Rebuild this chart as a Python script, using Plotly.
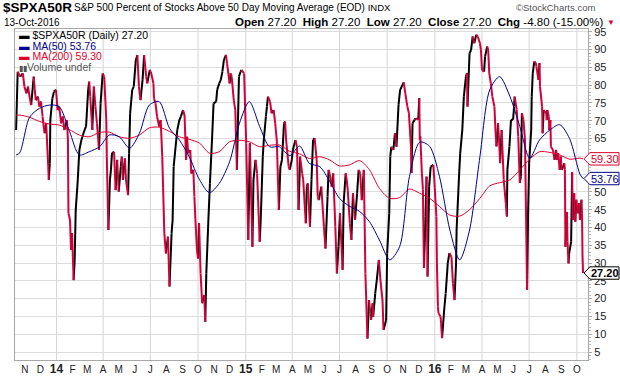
import plotly.graph_objects as go

# ---------------- data ----------------
close_dates = [
 "2013-10-15","2013-10-18","2013-10-23","2013-10-28","2013-10-31","2013-11-04","2013-11-07","2013-11-11",
 "2013-11-13","2013-11-18","2013-11-20","2013-11-22","2013-11-26","2013-11-29","2013-12-02","2013-12-05",
 "2013-12-09","2013-12-12","2013-12-16","2013-12-17","2013-12-19","2013-12-20","2013-12-24","2013-12-27",
 "2013-12-31","2014-01-03","2014-01-06","2014-01-10","2014-01-13","2014-01-16","2014-01-21","2014-01-23",
 "2014-01-24","2014-01-27","2014-01-29","2014-01-31","2014-02-03","2014-02-05","2014-02-07","2014-02-11",
 "2014-02-14","2014-02-18","2014-02-20","2014-02-24","2014-02-27","2014-03-03","2014-03-05","2014-03-07",
 "2014-03-11","2014-03-14","2014-03-17","2014-03-20","2014-03-24","2014-03-27","2014-03-31","2014-04-03",
 "2014-04-07","2014-04-08","2014-04-11","2014-04-14","2014-04-16","2014-04-18","2014-04-22","2014-04-25",
 "2014-04-28","2014-05-01","2014-05-05","2014-05-07","2014-05-09","2014-05-13","2014-05-15","2014-05-19",
 "2014-05-21","2014-05-23","2014-05-27","2014-05-30","2014-06-03","2014-06-06","2014-06-09","2014-06-12",
 "2014-06-16","2014-06-19","2014-06-23","2014-06-25","2014-06-30","2014-07-02","2014-07-07","2014-07-08",
 "2014-07-11","2014-07-14","2014-07-18","2014-07-21","2014-07-24","2014-07-28","2014-07-31","2014-08-04",
 "2014-08-07","2014-08-11","2014-08-13","2014-08-15","2014-08-20","2014-08-22","2014-08-26","2014-08-29",
 "2014-09-02","2014-09-05","2014-09-08","2014-09-10","2014-09-12","2014-09-16","2014-09-18","2014-09-22",
 "2014-09-24","2014-09-26","2014-09-29","2014-10-01","2014-10-03","2014-10-06","2014-10-09","2014-10-13",
 "2014-10-15","2014-10-17","2014-10-21","2014-10-24","2014-10-28","2014-10-31","2014-11-05","2014-11-07",
 "2014-11-11","2014-11-14","2014-11-17","2014-11-20","2014-11-24","2014-11-26","2014-12-01","2014-12-03",
 "2014-12-05","2014-12-09","2014-12-12","2014-12-15","2014-12-19","2014-12-22","2014-12-24","2014-12-29",
 "2015-01-02","2015-01-06","2015-01-09","2015-01-14","2015-01-16","2015-01-20","2015-01-23","2015-01-28",
 "2015-01-30","2015-02-03","2015-02-05","2015-02-09","2015-02-11","2015-02-13","2015-02-17","2015-02-20",
 "2015-02-24","2015-02-27","2015-03-02","2015-03-06","2015-03-09","2015-03-12","2015-03-16","2015-03-18",
 "2015-03-20","2015-03-25","2015-03-27","2015-03-31","2015-04-02","2015-04-07","2015-04-10","2015-04-13",
 "2015-04-16","2015-04-20","2015-04-22","2015-04-27","2015-04-29","2015-05-01","2015-05-05","2015-05-08",
 "2015-05-11","2015-05-14","2015-05-18","2015-05-20","2015-05-22","2015-05-27","2015-06-01","2015-06-04",
 "2015-06-08","2015-06-10","2015-06-12","2015-06-16","2015-06-19","2015-06-23","2015-06-26","2015-06-29",
 "2015-07-02","2015-07-07","2015-07-09","2015-07-13","2015-07-15","2015-07-17","2015-07-21","2015-07-24",
 "2015-07-27","2015-07-31","2015-08-04","2015-08-07","2015-08-10","2015-08-13","2015-08-17","2015-08-20",
 "2015-08-24","2015-08-27","2015-08-31","2015-09-03","2015-09-04","2015-09-08","2015-09-11","2015-09-15",
 "2015-09-18","2015-09-22","2015-09-24","2015-09-29","2015-10-01","2015-10-05","2015-10-07","2015-10-09",
 "2015-10-13","2015-10-16","2015-10-19","2015-10-23","2015-10-26","2015-11-02","2015-11-05","2015-11-09",
 "2015-11-12","2015-11-16","2015-11-17","2015-11-19","2015-11-23","2015-11-25","2015-11-30","2015-12-02",
 "2015-12-03","2015-12-04","2015-12-07","2015-12-09","2015-12-11","2015-12-14","2015-12-16","2015-12-18",
 "2015-12-21","2015-12-24","2015-12-29","2015-12-31","2016-01-04","2016-01-05","2016-01-07","2016-01-08",
 "2016-01-12","2016-01-13","2016-01-15","2016-01-19","2016-01-22","2016-01-26","2016-01-29","2016-02-02",
 "2016-02-05","2016-02-08","2016-02-11","2016-02-12","2016-02-17","2016-02-19","2016-02-23","2016-02-26",
 "2016-03-01","2016-03-03","2016-03-04","2016-03-08","2016-03-11","2016-03-14","2016-03-17","2016-03-21",
 "2016-03-24","2016-03-28","2016-03-30","2016-04-01","2016-04-05","2016-04-07","2016-04-11","2016-04-13",
 "2016-04-15","2016-04-18","2016-04-21","2016-04-25","2016-04-27","2016-04-29","2016-05-02","2016-05-04",
 "2016-05-06","2016-05-09","2016-05-13","2016-05-17","2016-05-19","2016-05-20","2016-05-24","2016-05-27",
 "2016-05-31","2016-06-02","2016-06-03","2016-06-07","2016-06-10","2016-06-13","2016-06-15","2016-06-17",
 "2016-06-20","2016-06-23","2016-06-27","2016-06-29","2016-07-01","2016-07-05","2016-07-06","2016-07-08",
 "2016-07-11","2016-07-14","2016-07-15","2016-07-19","2016-07-21","2016-07-22","2016-07-26","2016-07-27",
 "2016-07-29","2016-08-03","2016-08-04","2016-08-05","2016-08-08","2016-08-09","2016-08-11","2016-08-12",
 "2016-08-16","2016-08-19","2016-08-22","2016-08-24","2016-08-26","2016-08-29","2016-08-31","2016-09-01",
 "2016-09-02","2016-09-07","2016-09-08","2016-09-09","2016-09-12","2016-09-13","2016-09-15","2016-09-16",
 "2016-09-20","2016-09-22","2016-09-23","2016-09-26","2016-09-28","2016-09-30","2016-10-03","2016-10-05",
 "2016-10-07","2016-10-10","2016-10-11","2016-10-12","2016-10-13"]
close_vals = [
 67.4,83.8,82.4,83.3,79.6,77.7,79.6,75.8,
 74.4,82.4,78.7,75.8,76.8,74.0,75.4,71.2,
 66.5,69.3,57.1,53.4,58.0,70.2,76.3,78.2,
 78.7,73.0,74.0,69.3,71.2,67.4,70.2,64.6,
 44.0,42.1,33.7,38.4,25.2,30.9,44.9,53.4,
 61.8,64.6,65.5,67.4,68.4,78.7,81.0,76.8,
 67.4,79.6,74.0,69.3,61.8,74.9,83.3,82.4,
 70.2,59.9,39.3,53.4,56.2,60.9,61.3,50.5,
 59.0,50.1,57.1,59.9,53.4,59.4,53.4,49.1,
 60.9,72.1,78.7,79.6,87.1,88.5,79.6,75.8,
 81.5,88.5,82.4,80.5,84.3,83.8,80.5,76.3,
 74.9,71.2,68.4,70.2,59.9,38.4,32.7,37.4,
 23.4,38.4,42.1,57.1,64.6,67.4,70.2,71.2,
 73.0,71.6,59.0,65.5,60.9,61.8,55.2,56.2,
 48.7,42.1,33.7,31.3,41.2,27.1,18.7,21.0,
 13.5,27.1,42.1,52.4,64.6,74.9,75.4,78.7,
 80.5,81.5,83.8,87.1,88.5,86.2,80.5,83.3,
 82.4,75.8,73.0,56.2,82.4,83.8,84.3,83.3,
 63.7,36.5,63.7,34.6,53.4,59.0,55.2,36.0,
 42.1,59.9,64.6,71.2,74.0,76.8,75.4,72.1,
 73.0,69.3,64.6,44.9,57.1,59.0,69.3,69.8,
 64.6,57.1,56.2,59.0,61.8,64.6,62.7,44.9,
 59.9,55.2,53.4,41.2,51.5,52.4,40.2,53.4,
 64.6,65.1,59.0,48.7,47.7,51.5,40.2,34.1,
 48.7,56.2,55.2,51.5,55.2,40.2,27.1,34.6,
 44.0,28.1,46.8,55.2,53.4,50.5,41.2,36.5,
 49.6,42.1,49.6,56.2,55.2,47.7,56.2,27.1,
 8.8,19.6,14.0,18.7,14.9,21.5,25.2,30.9,
 25.2,19.6,11.2,14.0,32.7,44.0,59.9,62.7,
 61.8,66.5,62.7,74.5,78.7,80.8,77.8,74.0,
 72.1,62.8,55.3,69.3,70.3,70.7,70.3,76.4,
 64.6,65.6,55.3,50.6,28.6,43.1,54.3,26.2,
 51.5,57.1,57.6,53.4,43.1,30.0,17.8,15.9,
 15.0,13.1,8.9,16.8,21.5,30.0,32.8,31.8,
 24.3,19.6,30.0,39.3,55.3,60.9,67.4,76.8,
 82.4,83.4,74.0,89.0,89.9,93.7,91.8,94.2,
 93.7,91.8,89.9,84.3,83.8,88.1,90.9,89.9,
 83.4,80.6,76.8,74.0,67.4,62.8,69.3,64.6,
 58.1,67.4,53.4,46.8,43.1,56.2,62.8,70.3,
 70.3,74.0,76.8,73.1,65.6,52.5,54.3,72.1,
 70.3,64.6,22.5,44.1,58.1,67.4,76.8,83.4,
 86.7,86.2,85.3,81.5,86.2,79.6,74.0,66.5,
 73.0,72.1,70.2,73.0,71.2,67.4,70.2,62.7,
 61.8,59.0,61.8,59.0,60.9,56.2,59.9,58.0,
 56.2,58.0,56.2,34.6,44.3,36.0,29.9,32.5,
 36.0,55.5,42.1,49.6,41.6,47.8,44.0,46.8,
 42.1,47.8,44.0,32.0,27.2]

ma_dates = [
 "2013-10-15","2013-10-22","2013-11-10","2013-11-29","2013-12-18","2014-01-06","2014-01-26","2014-02-14",
 "2014-03-05","2014-03-25","2014-04-13","2014-05-02","2014-05-22","2014-06-10","2014-06-29","2014-07-18",
 "2014-08-07","2014-08-26","2014-09-14","2014-10-04","2014-10-23","2014-11-11","2014-12-01","2014-12-20",
 "2015-01-08","2015-01-28","2015-02-16","2015-03-07","2015-03-27","2015-04-15","2015-05-04","2015-05-24",
 "2015-06-12","2015-07-01","2015-07-20","2015-08-09","2015-08-28","2015-09-16","2015-10-06","2015-10-25",
 "2015-11-13","2015-12-03","2015-12-22","2016-01-10","2016-01-30","2016-02-18","2016-03-08","2016-03-28",
 "2016-04-16","2016-05-05","2016-05-25","2016-06-13","2016-07-02","2016-07-21","2016-08-10","2016-08-29",
 "2016-09-17","2016-10-07","2016-10-13"]
ma50_vals = [
 60.4,61.0,71.0,73.5,74.4,74.0,67.0,60.4,
 61.3,62.7,66.0,65.5,62.3,66.5,74.4,75.4,
 67.9,64.6,59.9,53.4,49.8,52.4,58.5,69.3,
 75.4,68.4,62.7,62.7,60.2,62.9,58.0,57.1,
 53.0,48.2,46.0,44.5,41.6,36.5,30.9,34.6,
 54.3,64.0,62.8,54.3,39.3,30.9,39.3,59.9,
 78.7,82.4,76.8,68.4,59.5,64.6,67.4,68.9,
 65.0,55.0,53.76]
ma200_vals = [
 71.6,71.6,71.0,69.8,69.1,68.8,67.5,66.0,
 65.5,66.7,66.8,65.5,65.1,66.0,68.0,68.2,
 67.0,65.5,64.8,63.7,60.9,61.3,64.1,64.5,
 64.1,62.7,63.1,63.2,61.4,60.7,59.4,59.9,
 59.0,57.3,57.6,58.8,56.2,51.0,48.2,48.4,
 50.8,49.6,48.2,45.9,43.5,43.2,45.0,48.2,
 51.7,52.6,53.4,56.2,59.2,61.3,61.1,60.4,
 59.2,59.5,59.3]

month_tick_dates = [
 "2013-11-01","2013-12-01","2014-01-01","2014-02-01","2014-03-01","2014-04-01","2014-05-01","2014-06-01",
 "2014-07-01","2014-08-01","2014-09-01","2014-10-01","2014-11-01","2014-12-01","2015-01-01","2015-02-01",
 "2015-03-01","2015-04-01","2015-05-01","2015-06-01","2015-07-01","2015-08-01","2015-09-01","2015-10-01",
 "2015-11-01","2015-12-01","2016-01-01","2016-02-01","2016-03-01","2016-04-01","2016-05-01","2016-06-01",
 "2016-07-01","2016-08-01","2016-09-01","2016-10-01"]
YR = "<span style='font-size:12px'><b>{}</b></span>"
month_tick_labels = [
 "N","D",YR.format("14"),"F","M","A","M","J","J","A","S","O","N","D",YR.format("15"),"F","M","A","M","J","J","A","S","O",
 "N","D",YR.format("16"),"F","M","A","M","J","J","A","S","O"]
quarter_grid_dates = ["2014-01-01","2014-04-01","2014-07-01","2014-10-01","2015-01-01","2015-04-01",
                      "2015-07-01","2015-10-01","2016-01-01","2016-04-01","2016-07-01","2016-10-01"]
y_ticks = list(range(5, 100, 5))
y_tick_labels = ["" if v in (55, 60) else str(v) for v in y_ticks]   # these two sit under the value tags

last_close, last_ma50, last_ma200 = 27.20, 53.76, 59.30

# ---------------- styling ----------------
FONT = "Liberation Sans, Arial, sans-serif"
BLACK = "#000000"
RED = "#d4003c"
NAVY = "#00008c"
MA_RED = "#e0002a"

W, H = 620, 376
ML, MR, MT, MB = 15, 32, 29, 16
PW, PH = W - ML - MR, H - MT - MB

def px(x):
    return (x - ML) / PW

def py(y):
    return (H - MB - y) / PH

fig = go.Figure()

# rising segments black, falling segments red
bx, by, rx, ry = [], [], [], []
for i in range(1, len(close_vals)):
    if close_vals[i] < close_vals[i - 1]:
        rx += [close_dates[i - 1], close_dates[i], None]
        ry += [close_vals[i - 1], close_vals[i], None]
    else:
        bx += [close_dates[i - 1], close_dates[i], None]
        by += [close_vals[i - 1], close_vals[i], None]
fig.add_trace(go.Scatter(x=bx, y=by, mode="lines", line=dict(color=BLACK, width=2),
                         connectgaps=False, hoverinfo="skip", showlegend=False))
fig.add_trace(go.Scatter(x=rx, y=ry, mode="lines", line=dict(color=RED, width=2),
                         connectgaps=False, hoverinfo="skip", showlegend=False))
fig.add_trace(go.Scatter(x=ma_dates, y=ma200_vals, mode="lines",
                         line=dict(color=MA_RED, width=1, shape="spline", smoothing=0.8),
                         hoverinfo="skip", showlegend=False))
fig.add_trace(go.Scatter(x=ma_dates, y=ma50_vals, mode="lines",
                         line=dict(color=NAVY, width=1, shape="spline", smoothing=0.8),
                         hoverinfo="skip", showlegend=False))

shapes = []
for d in quarter_grid_dates:
    shapes.append(dict(type="line", xref="x", yref="paper", x0=d, x1=d, y0=0, y1=1,
                       line=dict(color="#d4d4d4", width=1), layer="below"))

# value tags on right
ann = []
hh = 6.2 / (PH / (95.8 - 2.75))
for val, col, bold in [(last_ma200, MA_RED, False), (last_ma50, NAVY, False), (last_close, BLACK, True)]:
    path = (f"M {px(584)},{val} L {px(590)},{val + hh} L {px(619)},{val + hh} "
            f"L {px(619)},{val - hh} L {px(590)},{val - hh} Z")
    shapes.append(dict(type="path", xref="paper", yref="y", path=path,
                       fillcolor="white", line=dict(color=col, width=1), layer="above"))
    txt = f"{val:.2f}"
    if bold:
        txt = f"<b>{txt}</b>"
    ann.append(dict(xref="paper", yref="y", x=px(604.5), y=val, text=txt, showarrow=False, borderpad=0,
                    xanchor="center", yanchor="middle", font=dict(family=FONT, size=11, color=col)))

# header
ann += [
    dict(xref="paper", yref="paper", x=px(1), y=py(8), xanchor="left", yanchor="middle", showarrow=False,
         text="<b>$SPXA50R</b>", font=dict(family=FONT, size=13.5, color="#000")),
    dict(xref="paper", yref="paper", x=px(72), y=py(8), xanchor="left", yanchor="middle", showarrow=False,
         text="S&amp;P 500 Percent of Stocks Above 50 Day Moving Average (EOD) <span style='font-size:9.5px'>INDX</span>",
         font=dict(family=FONT, size=10, color="#000")),
    dict(xref="paper", yref="paper", x=px(597), y=py(8), xanchor="right", yanchor="middle", showarrow=False,
         text="©StockCharts.com", font=dict(family=FONT, size=9.5, color="#555")),
    dict(xref="paper", yref="paper", x=px(2), y=py(22), xanchor="left", yanchor="middle", showarrow=False,
         text="13-Oct-2016", font=dict(family=FONT, size=10, color="#000")),
    dict(xref="paper", yref="paper", x=px(605), y=py(22), xanchor="right", yanchor="middle", showarrow=False,
         text="<b>Open</b> 27.20  <b>High</b> 27.20  <b>Low</b> 27.20  <b>Close</b> 27.20  <b>Chg</b> -4.80 (-15.00%)",
         font=dict(family=FONT, size=11.5, color="#000")),
    dict(xref="paper", yref="paper", x=px(611), y=py(22), xanchor="center", yanchor="middle", showarrow=False,
         text="▼", font=dict(family=FONT, size=8, color=RED)),
]

# legend block
leg = [("$SPXA50R (Daily) 27.20", BLACK, 35), ("MA(50) 53.76", NAVY, 45.7), ("MA(200) 59.30", MA_RED, 56.4)]
for text, col, yy in leg:
    ann.append(dict(xref="paper", yref="paper", x=px(18), y=py(yy), xanchor="left", yanchor="middle",
                    showarrow=False, borderpad=0, text=f"<b>▬</b> {text}",
                    font=dict(family=FONT, size=10.5, color=col)))
ann.append(dict(xref="paper", yref="paper", x=px(18), y=py(67), xanchor="left", yanchor="middle",
                showarrow=False, borderpad=0, text="<span style='font-size:8px'>▮▮</span>Volume undef",
                font=dict(family=FONT, size=10.5, color="#555")))

fig.update_layout(
    width=W, height=H, margin=dict(l=ML, r=MR, t=MT, b=MB, autoexpand=False),
    paper_bgcolor="white", plot_bgcolor="white",
    shapes=shapes, annotations=ann, showlegend=False,
    xaxis=dict(type="date", range=["2013-10-12 20:00", "2016-10-22 14:00"], automargin=False,
               tickmode="array", tickvals=month_tick_dates, ticktext=month_tick_labels,
               showgrid=False, zeroline=False, showline=True, mirror=True, linecolor="#a8a8a8",
               ticks="", tickfont=dict(family=FONT, size=10, color="#222"), tickangle=0),
    yaxis=dict(side="right", range=[2.75, 95.8], tickmode="array", tickvals=y_ticks, ticktext=y_tick_labels,
               automargin=False,
               showgrid=True, gridcolor="#dcdcdc", gridwidth=1, zeroline=False,
               showline=True, mirror=True, linecolor="#a8a8a8",
               ticks="outside", ticklen=3, tickcolor="#a8a8a8",
               minor=dict(ticks="outside", ticklen=2, dtick=1, tickcolor="#c0c0c0", showgrid=False),
               tickfont=dict(family=FONT, size=11, color="#222")),
)

fig.write_html("out.html", config={"displayModeBar": False},
               post_script="document.body.style.margin='0px';document.body.style.padding='0px';")
